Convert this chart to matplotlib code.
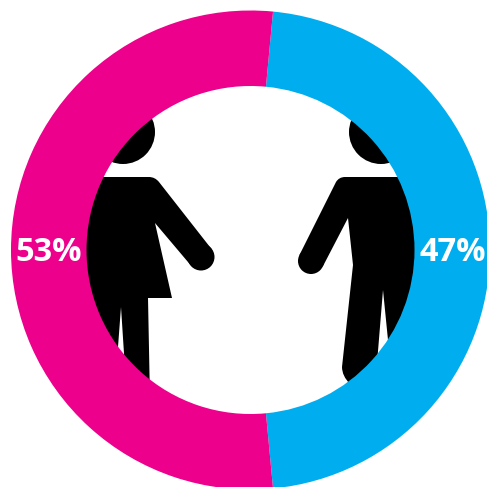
#!/usr/bin/env python3
# -*- coding: utf-8 -*-
"""Gender split donut with a woman and a man pictogram inside the hole."""

import matplotlib
matplotlib.use('Agg')
import matplotlib.pyplot as plt
from matplotlib.patches import Circle, PathPatch
from matplotlib.path import Path

# Valeurs du donut
shares = [47, 53]
share_colors = ['#00AEEF', '#EC008C']

CENTER = (250.5, 250)
RADIUS = 239.5
HOLE = 164
START_ANGLE = 84.6  # the split leans slightly off vertical

M, L, Q = Path.MOVETO, Path.LINETO, Path.CURVE3

# Silhouettes in pixel units, clipped to the hole afterwards
woman_body = [
    (M, 60, 177), (L, 149, 177), (Q, 155, 177), (Q, 159, 182),
    (L, 211.5, 249), (L, 190.5, 265), (L, 155, 223), (L, 172, 298),
    (L, 148, 298), (L, 150, 400), (L, 127, 400), (L, 121, 307),
    (L, 114, 400), (L, 60, 400),
]
woman_hand = (201, 257, 13.5)
woman_head = (123, 132, 32)

man_body = [
    (M, 440, 177), (L, 345, 177), (Q, 339, 177), (Q, 336, 182),
    (L, 299.3, 255.3), (L, 322.7, 266.7), (L, 348, 218), (L, 353, 265),
    (L, 342, 367), (Q, 342, 376), (Q, 350, 384), (L, 360, 400),
    (L, 374, 400), (L, 383, 290), (L, 394, 400), (L, 440, 400),
]
man_hand = (311, 261, 13)
man_head = (381, 132, 32)


def add_figure(ax, body, hand, head, clip):
    """Draw one black pictogram: body outline, hand and head"""
    codes = [row[0] for row in body] + [Path.CLOSEPOLY]
    verts = [row[1:] for row in body] + [body[0][1:]]
    parts = [PathPatch(Path(verts, codes), facecolor='black',
                       edgecolor='none', zorder=1)]
    for x, y, r in (hand, head):
        parts.append(Circle((x, y), r, facecolor='black',
                            edgecolor='none', zorder=1))
    for part in parts:
        ax.add_patch(part)
        part.set_clip_path(clip)


fig = plt.figure(figsize=(4.87, 4.87), dpi=100)
ax = fig.add_axes([0, 0, 1, 1])

# Ring on top, the pictograms stop along the hole
wedges, _, pct_texts = ax.pie(
    shares,
    colors=share_colors,
    center=CENTER,
    radius=RADIUS,
    startangle=START_ANGLE,
    counterclock=False,
    autopct=lambda v: f'{round(v)}%',
    pctdistance=(RADIUS + HOLE) / 2 / RADIUS,
    wedgeprops={'width': RADIUS - HOLE, 'linewidth': 0, 'zorder': 2},
    frame=True,
)
for txt in pct_texts:
    txt.set_color('white')
    txt.set_fontfamily('Open Sans')
    txt.set_fontweight('bold')
    txt.set_fontsize(23.5)
    txt.set_zorder(3)

# Axe en pixels, y vers le bas
ax.set_xlim(0, 487)
ax.set_ylim(487, 0)
ax.set_aspect('equal')
ax.axis('off')

for txt in pct_texts:
    txt.set_y(txt.get_position()[1] + 2.5)

hole_clip = Circle(CENTER, HOLE + 1, transform=ax.transData)
add_figure(ax, woman_body, woman_hand, woman_head, hole_clip)
add_figure(ax, man_body, man_hand, man_head, hole_clip)

fig.savefig('out.png', dpi=100)
plt.close(fig)
